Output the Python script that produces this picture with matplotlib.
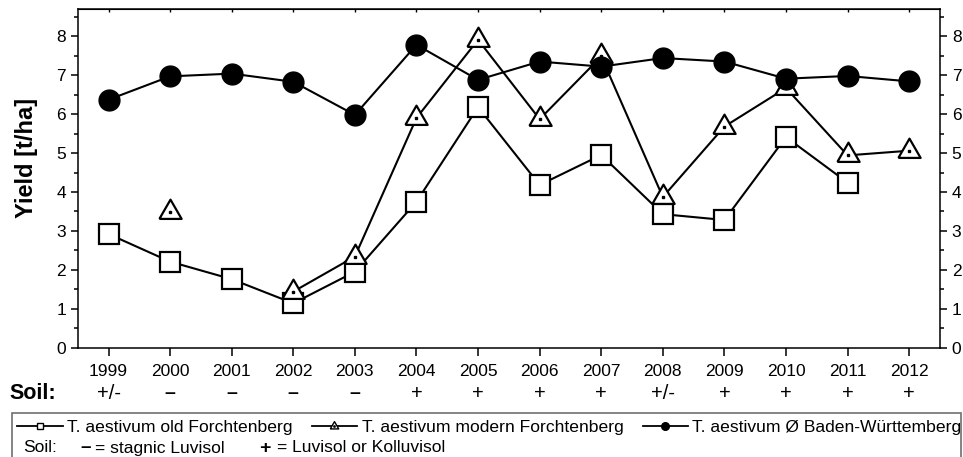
import numpy as np
import matplotlib
matplotlib.use('Agg')
import matplotlib.pyplot as plt
from matplotlib.lines import Line2D
from matplotlib.patches import Rectangle

plt.rcParams['font.family'] = ['Liberation Sans', 'DejaVu Sans']

years = list(range(1999, 2013))
old_forch = [2.92, 2.21, 1.76, 1.14, 1.95, 3.75, 6.18, 4.18, 4.95, 3.43, 3.28, 5.41, 4.24, np.nan]
modern_forch = [np.nan, 3.49, np.nan, 1.44, 2.34, 5.90, 7.91, 5.87, 7.48, 3.87, 5.68, 6.67, 4.94, 5.06]
bw_mean = [6.37, 6.97, 7.04, 6.83, 5.98, 7.78, 6.88, 7.35, 7.22, 7.44, 7.35, 6.91, 6.98, 6.84]
soil = ['+/-', '–', '–', '–', '–', '+', '+', '+', '+', '+/-', '+', '+', '+', '+']

labels = ['T. aestivum old Forchtenberg',
          'T. aestivum modern Forchtenberg',
          'T. aestivum Ø Baden-Württemberg']

# equilateral triangle with its centroid on the data point
tri = [(-1, -0.5774), (1, -0.5774), (0, 1.1547), (-1, -0.5774)]

fig = plt.figure(figsize=(9.63, 4.57), dpi=100)
ax = fig.add_axes([0.0807, 0.2392, 0.8954, 0.7411])

ax.plot(years, old_forch, color='black', lw=1.5, marker='s', ms=14,
        mfc='white', mec='black', mew=1.6)
# triangles: 2000 stands alone, the line runs 2002-2012
ax.plot(years, modern_forch, color='black', lw=1.5, marker=tri, ms=18.5,
        mfc='white', mec='black', mew=1.6)
ax.plot(years, modern_forch, ls='none', marker='s', ms=1.8, color='black')
ax.plot(years, bw_mean, color='black', lw=1.5, marker='o', ms=15,
        mfc='black', mec='black')

ax.set_xlim(1998.5, 2012.5)
ax.set_ylim(0, 8.7)
ax.set_xticks(years)
ax.set_yticks(range(0, 9))
ax.set_yticks(np.arange(0.5, 8.6, 1.0), minor=True)
ax.tick_params(axis='x', which='major', direction='out', length=5.5, width=1.1,
               labelsize=12.5, pad=6, top=False)
ax.tick_params(axis='y', which='major', direction='out', length=5, width=1.1,
               labelsize=12.5, pad=3.5, right=True, labelright=True)
ax.tick_params(axis='y', which='minor', direction='out', length=3, width=1.1,
               right=True)
for s in ax.spines.values():
    s.set_linewidth(1.1)

top = ax.secondary_xaxis('top')
top.set_xticks(years)
top.tick_params(direction='in', length=2, width=1, labeltop=False)

ax.set_ylabel('Yield [t/ha]', fontsize=17, fontweight='bold')
ax.yaxis.set_label_coords(-0.046, 0.559)

# soil row under the year labels
for yr, s in zip(years, soil):
    ax.text(yr, -0.136, s, transform=ax.get_xaxis_transform(), ha='center',
            va='center', fontsize=14 if s == '–' else 14.5,
            fontweight='bold' if s == '–' else 'normal')
ax.text(-0.079, -0.136, 'Soil:', transform=ax.transAxes, ha='left', va='center',
        fontsize=15.5, fontweight='bold')

# legend box
fig.add_artist(Rectangle((12 / 963, -0.01), 949 / 963, (457 - 413) / 457 + 0.01,
                         transform=fig.transFigure, fill=False,
                         edgecolor='#707070', lw=1.2))
h_sq = Line2D([], [], color='black', lw=1.3, marker='s', ms=4.5, mfc='white', mec='black', mew=1)
h_tri = Line2D([], [], color='black', lw=1.3, marker=tri, ms=7, mfc='white', mec='black', mew=1)
h_dot = Line2D([], [], ls='none', marker='s', ms=0.9, color='black')
h_ci = Line2D([], [], color='black', lw=1.3, marker='o', ms=5.5, mfc='black', mec='black')
fig.legend([h_sq, (h_tri, h_dot), h_ci], labels, ncol=3, frameon=False,
           loc='center left', bbox_to_anchor=(17 / 963, 1 - 427 / 457),
           borderpad=0, borderaxespad=0, handlelength=2.6, handletextpad=0.25,
           columnspacing=1.1, fontsize=12.6)
fy = 1 - 448 / 457
fig.text(23 / 963, fy, 'Soil:', fontsize=12.6, va='center', ha='left')
fig.text(80 / 963, fy, '–', fontsize=13.5, fontweight='bold', va='center', ha='left')
fig.text(95 / 963, fy, '= stagnic Luvisol', fontsize=12.6, va='center', ha='left')
fig.text(259 / 963, fy, '+', fontsize=14, fontweight='bold', va='center', ha='left')
fig.text(277 / 963, fy, '= Luvisol or Kolluvisol', fontsize=12.6, va='center', ha='left')

fig.savefig('out.png', dpi=100)
